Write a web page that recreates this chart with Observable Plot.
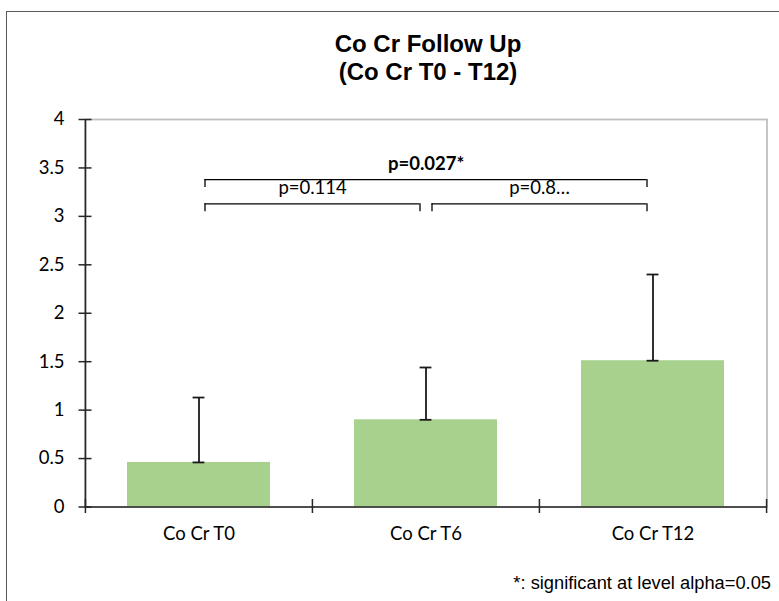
<!DOCTYPE html>
<html><head><meta charset="utf-8">
<script src="https://cdn.jsdelivr.net/npm/d3@7"></script>
<script src="https://cdn.jsdelivr.net/npm/@observablehq/plot@0.6"></script>
<style>
html,body{margin:0;padding:0;background:#fff;}
#page{position:relative;width:779px;height:601px;overflow:hidden;background:#fff;}
#chart{position:absolute;left:0;top:0;}
#border{position:absolute;left:6px;top:10.5px;width:900px;height:800px;border-left:1.5px solid #595959;border-top:1.5px solid #595959;}
.title{position:absolute;left:0;width:856px;text-align:center;font:bold 24px "Liberation Sans",Arial,sans-serif;line-height:28px;color:#000;}
#foot{position:absolute;right:8px;top:573px;font:18.3px "Liberation Sans",Arial,sans-serif;line-height:20px;color:#000;white-space:nowrap;}
</style></head><body>
<div id="page">
<div id="chart"></div>
<div id="border"></div>
<div class="title" style="top:30px">Co Cr Follow Up</div>
<div class="title" style="top:58px">(Co Cr T0 - T12)</div>
<div id="foot">*: significant at level alpha=0.05</div>
</div>
<script>
// ---- data ----
const categories = ["Co Cr T0", "Co Cr T6", "Co Cr T12"];
const means = [0.46, 0.90, 1.51];
const upperErrors = [0.67, 0.54, 0.89];
const yTicks = [0, 0.5, 1, 1.5, 2, 2.5, 3, 3.5, 4];
const bracketFrom = ["Co Cr T0", "Co Cr T0", "Co Cr T6"];
const bracketTo = ["Co Cr T12", "Co Cr T6", "Co Cr T12"];
const bracketLevel = [3.38, 3.13, 3.13];
const bracketLabel = ["p=0.027*", "p=0.114", "p=0.8…"];
const bracketBold = [true, false, false];

const rows = categories.map((c, i) => ({cat: c, mean: means[i], hi: means[i] + upperErrors[i]}));
const brackets = bracketFrom.map((f, i) => ({from: f, to: bracketTo[i], level: bracketLevel[i], label: bracketLabel[i], bold: bracketBold[i]}));

// ---- layout ----
const W = 779, H = 560, ML = 85, MR = 12.5, MT = 119, MB = 53.5;
const bw = (W - ML - MR) / categories.length;
const barInset = 42;
const capInset = (bw - 12) / 2;
const off = 6;
const axisColor = "#262626";
const FS = 18.5;

const bracketMarks = brackets.flatMap(b => {
  const span = categories.indexOf(b.to) - categories.indexOf(b.from);
  return [
    Plot.ruleY([b], {y: "level", x1: "from", x2: "to", insetLeft: bw / 2 + off, insetRight: bw / 2 + off, stroke: "#000", strokeWidth: 1.3}),
    Plot.ruleX([b], {x: "from", y1: "level", y2: "level", dx: off, insetBottom: -8, stroke: "#000", strokeWidth: 1.3}),
    Plot.ruleX([b], {x: "to", y1: "level", y2: "level", dx: -off, insetBottom: -8, stroke: "#000", strokeWidth: 1.3}),
    Plot.text([b], {x: "from", y: "level", text: "label", dx: span * bw / 2, dy: -15.5, fontWeight: b.bold ? "bold" : "normal", fontSize: FS, fill: "#000"})
  ];
});

const chart = Plot.plot({
  width: W, height: H,
  marginLeft: ML, marginRight: MR, marginTop: MT, marginBottom: MB,
  style: {fontFamily: "Lato, sans-serif", fontSize: FS + "px", color: "#000", background: "transparent", overflow: "visible"},
  x: {type: "band", domain: categories, padding: 0, label: null},
  y: {domain: [0, 4], label: null},
  marks: [
    Plot.frame({stroke: "#bfbfbf", strokeWidth: 1.8}),
    Plot.barY(rows, {x: "cat", y: "mean", fill: "#a9d18e", insetLeft: barInset, insetRight: barInset}),
    Plot.ruleX(rows, {x: "cat", y1: "mean", y2: "hi", stroke: "#1a1a1a", strokeWidth: 1.8}),
    Plot.tickY(rows, {x: "cat", y: "mean", insetLeft: capInset, insetRight: capInset, stroke: "#1a1a1a", strokeWidth: 1.8}),
    Plot.tickY(rows, {x: "cat", y: "hi", insetLeft: capInset, insetRight: capInset, stroke: "#1a1a1a", strokeWidth: 1.8}),
    Plot.ruleY([0], {stroke: axisColor, strokeWidth: 1.6}),
    Plot.ruleX([categories[0]], {x: d => d, dx: -bw / 2, y1: 0, y2: 4, stroke: axisColor, strokeWidth: 1.6}),
    Plot.tickY(yTicks, {y: d => d, insetLeft: -6.5, insetRight: bw * categories.length - 6.5, stroke: axisColor, strokeWidth: 1.5}),
    Plot.ruleX(categories, {x: d => d, dx: -bw / 2, y1: 0, y2: 0, insetTop: -7.5, insetBottom: -6.5, stroke: axisColor, strokeWidth: 1.5}),
    Plot.ruleX([categories[categories.length - 1]], {x: d => d, dx: bw / 2, y1: 0, y2: 0, insetTop: -7.5, insetBottom: -6.5, stroke: axisColor, strokeWidth: 1.5}),
    Plot.axisY({ticks: yTicks, tickSize: 0, tickPadding: 21, tickFormat: d => String(d), fontSize: FS, fill: "#000"}),
    Plot.axisX({tickSize: 0, tickPadding: 20, fontSize: FS, fill: "#000"}),
    ...bracketMarks
  ]
});
document.getElementById("chart").appendChild(chart);
</script>
</body></html>
